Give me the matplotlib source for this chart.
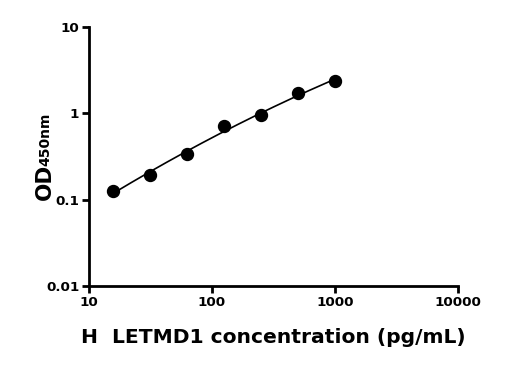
import numpy as np
import matplotlib.pyplot as plt
from matplotlib.ticker import FixedLocator, NullLocator, FixedFormatter

# data
conc = [15.625, 31.25, 62.5, 125, 250, 500, 1000]
od = [0.126, 0.193, 0.335, 0.71, 0.95, 1.71, 2.39]

xticks = [10, 100, 1000, 10000]
xlabels = ['10', '100', '1000', '10000']
yticks = [0.01, 0.1, 1, 10]
ylabels = ['0.01', '0.1', '1', '10']

fig = plt.figure(figsize=(5.16, 3.70), dpi=100)
ax = fig.add_axes([0.1725, 0.227, 0.715, 0.700])

# smooth fitted curve (quadratic in log-log space) through the points
lx, ly = np.log10(conc), np.log10(od)
coef = np.polyfit(lx, ly, 2)
xs = np.linspace(lx[0], lx[-1], 200)
ax.plot(10 ** xs, 10 ** np.polyval(coef, xs), color='black', lw=1.2)
ax.plot(conc, od, 'o', color='black', ms=8.6, clip_on=False)

ax.set_xscale('log')
ax.set_yscale('log')
ax.set_xlim(10, 10000)
ax.set_ylim(0.01, 10)

ax.xaxis.set_major_locator(FixedLocator(xticks))
ax.xaxis.set_major_formatter(FixedFormatter(xlabels))
ax.xaxis.set_minor_locator(NullLocator())
ax.yaxis.set_major_locator(FixedLocator(yticks))
ax.yaxis.set_major_formatter(FixedFormatter(ylabels))
ax.yaxis.set_minor_locator(NullLocator())

for s in ['top', 'right']:
    ax.spines[s].set_visible(False)
for s in ['left', 'bottom']:
    ax.spines[s].set_linewidth(2)

ax.tick_params(axis='both', direction='out', length=5, width=2, labelsize=9.7, pad=2)
for lbl in ax.get_xticklabels() + ax.get_yticklabels():
    lbl.set_fontweight('bold')

ax.set_xlabel('H  LETMD1 concentration (pg/mL)', fontsize=14.6, fontweight='bold', labelpad=14)

# y label: OD with 450nm subscript
fig.text(44.5 / 516, 1 - 181.5 / 370, 'OD', rotation=90, fontsize=15.5,
         fontweight='bold', ha='center', va='center')
fig.text(45.5 / 516, 1 - 139 / 370, '450nm', rotation=90, fontsize=10,
         fontweight='bold', ha='center', va='center')

fig.savefig('out.png', dpi=100)
